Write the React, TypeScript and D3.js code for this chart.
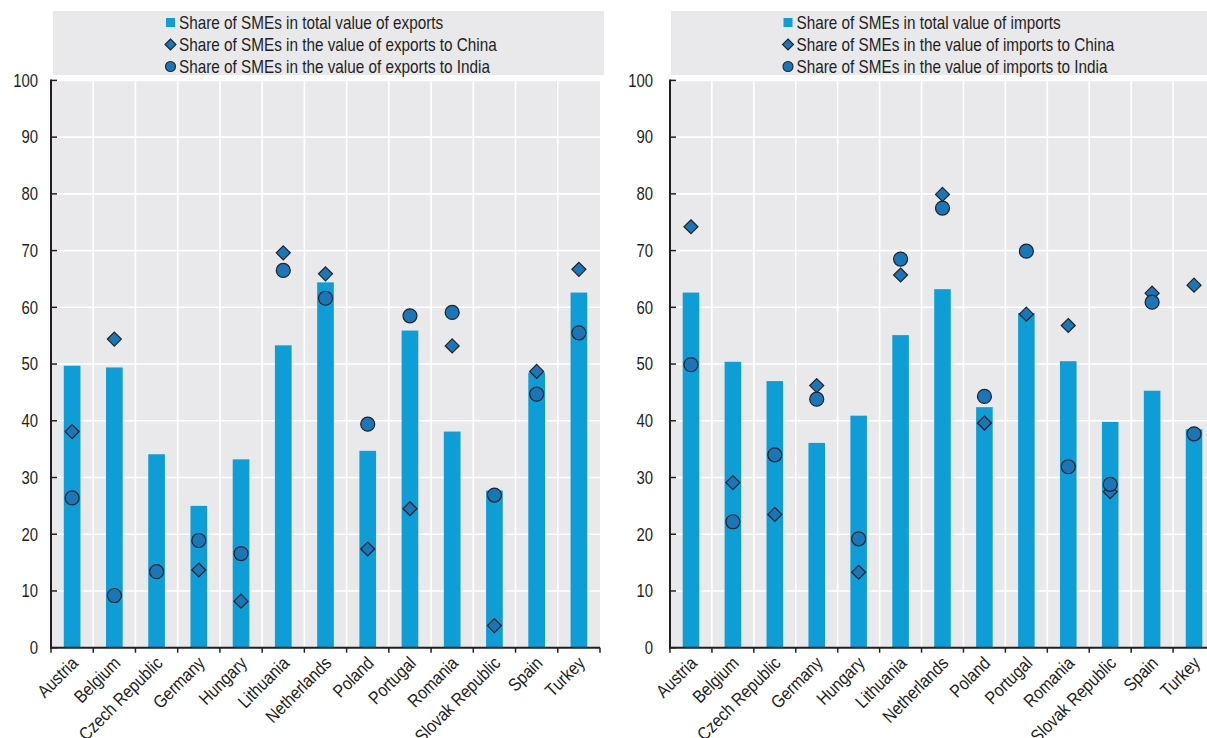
import React from "react";
import * as d3 from "d3";

const categories = ["Austria","Belgium","Czech Republic","Germany","Hungary","Lithuania","Netherlands","Poland","Portugal","Romania","Slovak Republic","Spain","Turkey"];
const exportsTotal = [49.7,49.4,34.1,25.0,33.2,53.3,64.4,34.7,55.9,38.1,27.7,48.5,62.6];
const exportsChina: (number|null)[] = [38.1,54.4,null,13.7,8.2,69.6,65.9,17.4,24.5,53.2,3.9,48.7,66.7];
const exportsIndia = [26.4,9.2,13.4,18.9,16.6,66.5,61.6,39.4,58.5,59.1,26.9,44.7,55.5];
const importsTotal = [62.6,50.4,47.0,36.1,40.9,55.1,63.2,42.4,59.0,50.5,39.8,45.3,38.5];
const importsChina: (number|null)[] = [74.2,29.1,23.5,46.2,13.3,65.7,79.9,39.6,58.8,56.8,27.5,62.5,63.9];
const importsIndia = [49.9,22.2,34.0,43.8,19.2,68.5,77.5,44.3,69.9,31.9,28.8,60.9,37.7];
const yTicks = [0,10,20,30,40,50,60,70,80,90,100];
const exportLegend = ["Share of SMEs in total value of exports","Share of SMEs in the value of exports to China","Share of SMEs in the value of exports to India"];
const importLegend = ["Share of SMEs in total value of imports","Share of SMEs in the value of imports to China","Share of SMEs in the value of imports to India"];

const BAR = "#0f9dd8";
const MARK = "#1a76b9";
const STROKE = "#222222";
const BG = "#e9e9ec";
const AXIS = "#231f20";
const FONT = "'Liberation Sans', Arial, sans-serif";
const FS = 17.5;
const SX = 0.85;
const LFS = 18;
const LSX = 0.87;

const y = d3.scaleLinear().domain([0, 100]).range([647.7, 80.4]);

function diamondPath(cx: number, cy: number, r: number) {
  return `M${cx},${cy - r}L${cx + r},${cy}L${cx},${cy + r}L${cx - r},${cy}Z`;
}

type PanelProps = {
  x0: number; width: number; labelRight: number;
  legendX0: number; legendX1: number; legendMarkX: number;
  total: number[]; china: (number|null)[]; india: number[]; legend: string[];
};

function Panel(p: PanelProps) {
  const x = d3.scaleBand<string>().domain(categories).range([p.x0, p.x0 + p.width]).padding(0);
  const step = x.step();
  const bw = step * 0.395;
  const y0 = y(0);
  const yTop = y(100);
  const boundaries = d3.range(0, categories.length + 1).map(i => p.x0 + i * step);
  const legendY = [22.5, 44.5, 66.5];
  return (
    <g>
      {/* legend */}
      <rect x={p.legendX0} y={11} width={p.legendX1 - p.legendX0} height={64} fill={BG} />
      <rect x={p.legendMarkX - 4.5} y={legendY[0] - 4.5} width={9} height={9} fill={BAR} />
      <path d={diamondPath(p.legendMarkX, legendY[1], 5.5)} fill={MARK} stroke={STROKE} strokeWidth={1.1} />
      <circle cx={p.legendMarkX} cy={legendY[2]} r={5} fill={MARK} stroke={STROKE} strokeWidth={1.1} />
      {p.legend.map((t, i) => (
        <text key={t} transform={`translate(${p.legendMarkX + 8.5},${legendY[i]}) scale(${SX},1)`} dy="0.36em" fontSize={FS + 0.5} fontFamily={FONT} fill={AXIS}>{t}</text>
      ))}
      {/* plot background */}
      <rect x={p.x0} y={yTop} width={p.width} height={y0 - yTop} fill={BG} />
      {yTicks.filter(t => t > 0).map(t => (
        <line key={"h" + t} x1={p.x0} x2={p.x0 + p.width} y1={y(t)} y2={y(t)} stroke="#ffffff" strokeWidth={1.6} />
      ))}
      {boundaries.slice(1, -1).map((bx, i) => (
        <line key={"v" + i} x1={bx} x2={bx} y1={yTop} y2={y0} stroke="#ffffff" strokeWidth={1.6} />
      ))}
      {/* bars */}
      {categories.map((c, i) => (
        <rect key={"b" + c} x={x(c)! + step / 2 - bw / 2} y={y(p.total[i])} width={bw} height={y0 - y(p.total[i])} fill={BAR} />
      ))}
      {/* china diamonds */}
      {categories.map((c, i) => p.china[i] == null ? null : (
        <path key={"d" + c} d={diamondPath(x(c)! + step / 2, y(p.china[i] as number), 7)} fill={MARK} stroke={STROKE} strokeWidth={1.2} />
      ))}
      {/* india circles */}
      {categories.map((c, i) => (
        <circle key={"c" + c} cx={x(c)! + step / 2} cy={y(p.india[i])} r={7} fill={MARK} stroke={STROKE} strokeWidth={1.2} />
      ))}
      {/* axes */}
      <line x1={p.x0} x2={p.x0} y1={yTop - 0.8} y2={y0 + 1} stroke={AXIS} strokeWidth={2} />
      <line x1={p.x0 - 1} x2={p.x0 + p.width} y1={y0} y2={y0} stroke={AXIS} strokeWidth={2} />
      {yTicks.map(t => (
        <g key={"yt" + t}>
          <line x1={p.x0} x2={p.x0 + 6} y1={y(t)} y2={y(t)} stroke={AXIS} strokeWidth={1.5} />
          <text transform={`translate(${p.labelRight},${y(t)}) scale(${SX},1)`} dy="0.36em" textAnchor="end" fontSize={FS} fontFamily={FONT} fill={AXIS}>{t}</text>
        </g>
      ))}
      {boundaries.map((bx, i) => (
        <line key={"xt" + i} x1={bx} x2={bx} y1={y0} y2={y0 + 5} stroke={AXIS} strokeWidth={1.5} />
      ))}
      {categories.map(c => {
        const cx = x(c)! + step / 2;
        return (
          <text key={"l" + c} transform={`translate(${cx + 2.5},${y0 + 12}) rotate(-45) scale(${LSX},1)`} textAnchor="end" dy="0.36em" fontSize={LFS} fontFamily={FONT} fill={AXIS}>{c}</text>
        );
      })}
    </g>
  );
}

export default function App() {
  return (
    <svg width={1207} height={738} style={{ position: "fixed", left: 0, top: 0, background: "#ffffff" }}>
      <rect x={0} y={0} width={1207} height={738} fill="#ffffff" />
      <Panel x0={51} width={549} labelRight={38} legendX0={53} legendX1={604} legendMarkX={170.5}
        total={exportsTotal} china={exportsChina} india={exportsIndia} legend={exportLegend} />
      <Panel x0={670} width={545} labelRight={653} legendX0={671} legendX1={1215} legendMarkX={788}
        total={importsTotal} china={importsChina} india={importsIndia} legend={importLegend} />
    </svg>
  );
}
